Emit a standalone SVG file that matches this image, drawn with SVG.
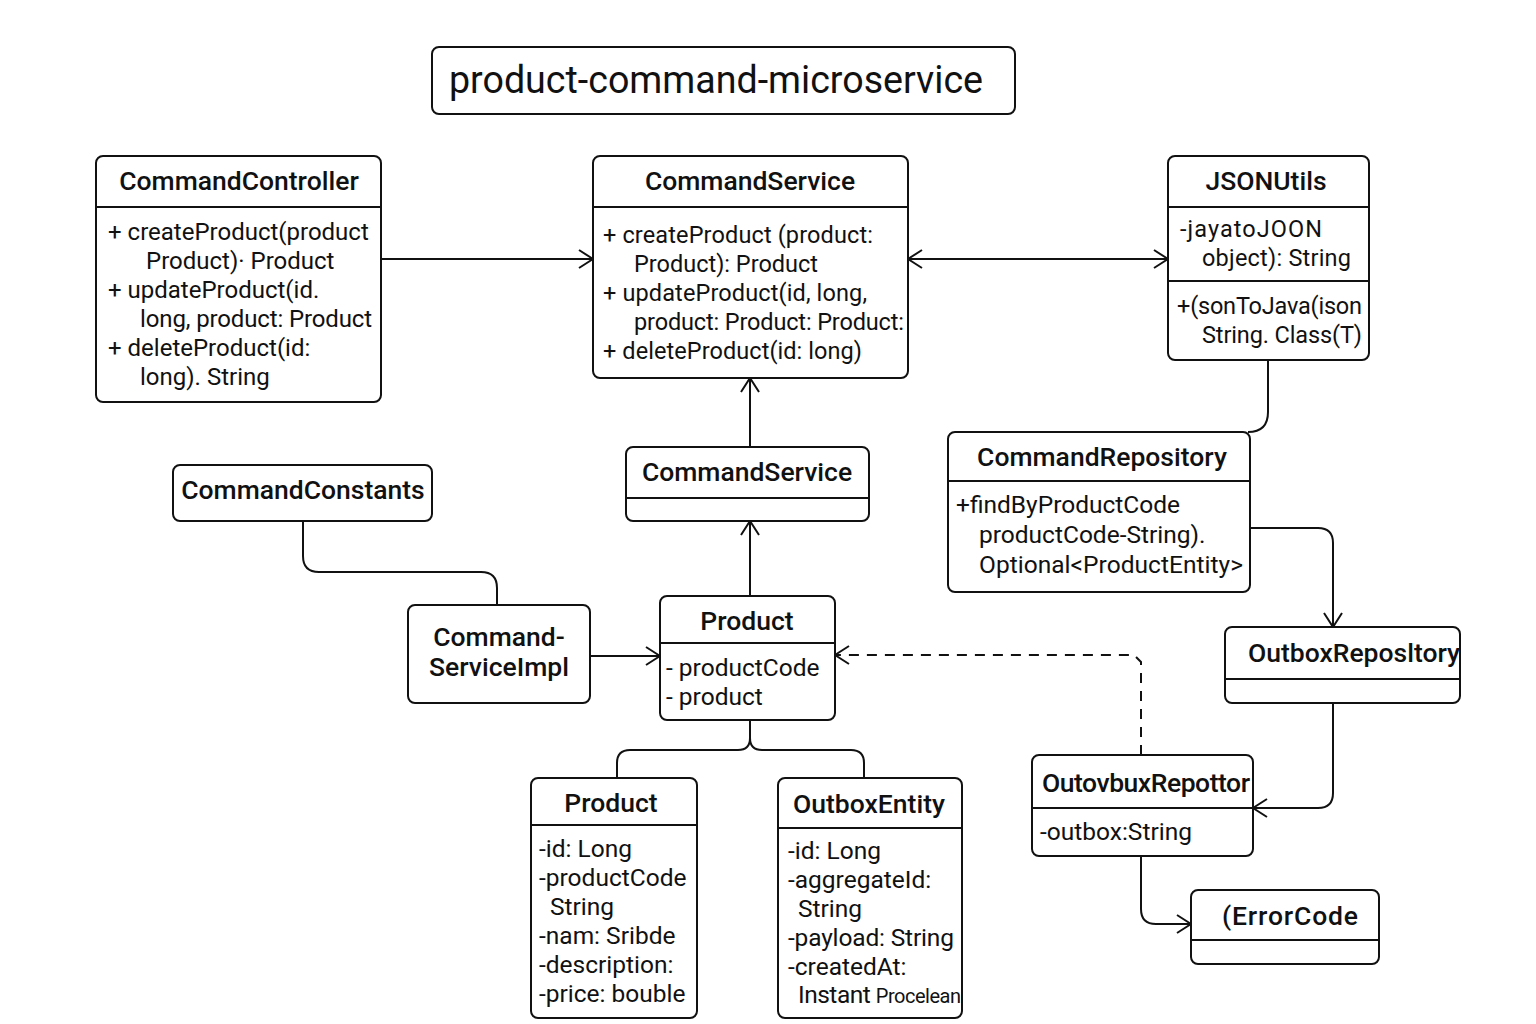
<svg xmlns="http://www.w3.org/2000/svg" width="1536" height="1024" viewBox="0 0 1536 1024">
<defs>
<style>
.box{fill:#fff;stroke:#111;stroke-width:2}
.div{stroke:#111;stroke-width:2}
.t{font-family:Roboto,"Liberation Sans",sans-serif;font-size:26.5px;font-weight:500;fill:#111}
.b{font-family:Roboto,"Liberation Sans",sans-serif;font-size:24.5px;fill:#111}
.b1{font-family:Roboto,"Liberation Sans",sans-serif;font-size:24px;fill:#111}
.b2{font-family:Roboto,"Liberation Sans",sans-serif;font-size:23.5px;fill:#111}
.c{fill:none;stroke:#111;stroke-width:2}
.d{fill:none;stroke:#111;stroke-width:2;stroke-dasharray:10 8}
</style>
<marker id="ar" viewBox="0 0 16 20" refX="15" refY="10" markerWidth="16" markerHeight="20" markerUnits="userSpaceOnUse" orient="auto-start-reverse">
<path d="M1,1 L15,10 L1,19" fill="none" stroke="#111" stroke-width="2"/>
</marker>
</defs>
<rect width="1536" height="1024" fill="#fff"/>

<g id="title">
<rect class="box" x="432" y="47" width="583" height="67" rx="7"/>
<text x="449" y="93" font-family="Roboto,'Liberation Sans',sans-serif" font-size="38" fill="#111" textLength="534" lengthAdjust="spacingAndGlyphs">product-command-microservice</text>
</g>

<g id="connectors">
<path class="c" d="M381,259 H593" marker-end="url(#ar)"/>
<path class="c" d="M908,259 H1168" marker-start="url(#ar)" marker-end="url(#ar)"/>
<path class="c" d="M750,447 V378" marker-end="url(#ar)"/>
<path class="c" d="M750,596 V521" marker-end="url(#ar)"/>
<path class="c" d="M590,656 H660" marker-end="url(#ar)"/>
<path class="c" d="M303,521 V556 Q303,572 319,572 H481 Q497,572 497,588 V605"/>
<path class="d" d="M1141,755 V662 L1134,655 H835" marker-end="url(#ar)"/>
<path class="c" d="M750,720 V738 Q750,750 738,750 H630 Q617,750 617,763 V778"/>
<path class="c" d="M750,738 Q750,750 762,750 H851 Q864,750 864,763 V778"/>
<path class="c" d="M1250,528 H1318 Q1333,528 1333,543 V627" marker-end="url(#ar)"/>
<path class="c" d="M1333,703 V793 Q1333,808 1318,808 H1253" marker-end="url(#ar)"/>
<path class="c" d="M1141,856 V909 Q1141,924 1156,924 H1191" marker-end="url(#ar)"/>
<path class="c" d="M1268,360 V412 Q1268,432 1248,432"/>
</g>

<g id="commandController">
<rect class="box" x="96" y="156" width="285" height="246" rx="7"/>
<line class="div" x1="96" y1="207" x2="381" y2="207"/>
<text class="t" x="239" y="190" text-anchor="middle">CommandController</text>
<text class="b1" x="108" y="240">+ createProduct(product</text>
<text class="b1" x="146" y="269">Product)· Product</text>
<text class="b1" x="108" y="298">+ updateProduct(id.</text>
<text class="b1" x="140" y="327" textLength="232">long, product: Product</text>
<text class="b1" x="108" y="356">+ deleteProduct(id:</text>
<text class="b1" x="140" y="385">long). String</text>
</g>

<g id="commandService">
<rect class="box" x="593" y="156" width="315" height="222" rx="7"/>
<line class="div" x1="593" y1="207" x2="908" y2="207"/>
<text class="t" x="750" y="190" text-anchor="middle">CommandService</text>
<text class="b2" x="603" y="243" textLength="270">+ createProduct (product:</text>
<text class="b2" x="634" y="272">Product): Product</text>
<text class="b2" x="603" y="301" textLength="264">+ updateProduct(id, long,</text>
<text class="b2" x="634" y="330" textLength="270">product: Product: Product:</text>
<text class="b2" x="603" y="359" textLength="259">+ deleteProduct(id: long)</text>
</g>

<g id="jsonUtils">
<rect class="box" x="1168" y="156" width="201" height="204" rx="7"/>
<line class="div" x1="1168" y1="207" x2="1369" y2="207"/>
<line class="div" x1="1168" y1="281" x2="1369" y2="281"/>
<text class="t" x="1266" y="190" text-anchor="middle">JSONUtils</text>
<text class="b2" x="1180" y="237" textLength="142">-jayatoJOON</text>
<text class="b2" x="1202" y="266" textLength="149">object): String</text>
<text class="b2" x="1177" y="314" textLength="185">+(sonToJava(ison</text>
<text class="b2" x="1202" y="343" textLength="160">String. Class(T)</text>
</g>

<g id="commandServiceSmall">
<rect class="box" x="626" y="447" width="243" height="74" rx="7"/>
<line class="div" x1="626" y1="498" x2="869" y2="498"/>
<text class="t" x="747" y="481" text-anchor="middle">CommandService</text>
</g>

<g id="commandConstants">
<rect class="box" x="173" y="465" width="259" height="56" rx="7"/>
<text class="t" x="303" y="499" text-anchor="middle">CommandConstants</text>
</g>

<g id="commandServiceImpl">
<rect class="box" x="408" y="605" width="182" height="98" rx="7"/>
<text class="t" x="499" y="646" text-anchor="middle">Command-</text>
<text class="t" x="499" y="676" text-anchor="middle">ServiceImpl</text>
</g>

<g id="productMid">
<rect class="box" x="660" y="596" width="175" height="124" rx="7"/>
<line class="div" x1="660" y1="643" x2="835" y2="643"/>
<text class="t" x="747" y="630" text-anchor="middle">Product</text>
<text class="b" x="666" y="676">- productCode</text>
<text class="b" x="666" y="705">- product</text>
</g>

<g id="productEntity">
<rect class="box" x="531" y="778" width="166" height="240" rx="7"/>
<line class="div" x1="531" y1="825" x2="697" y2="825"/>
<text class="t" x="611" y="812" text-anchor="middle">Product</text>
<text class="b" x="539" y="857">-id: Long</text>
<text class="b" x="539" y="886">-productCode</text>
<text class="b" x="550" y="915">String</text>
<text class="b" x="539" y="944">-nam: Sribde</text>
<text class="b" x="539" y="973">-description:</text>
<text class="b" x="539" y="1002">-price: bouble</text>
</g>

<g id="outboxEntity">
<rect class="box" x="778" y="778" width="184" height="240" rx="7"/>
<line class="div" x1="778" y1="828" x2="962" y2="828"/>
<text class="t" x="869" y="813" text-anchor="middle">OutboxEntity</text>
<text class="b" x="788" y="859">-id: Long</text>
<text class="b" x="788" y="888">-aggregateId:</text>
<text class="b" x="798" y="917">String</text>
<text class="b" x="788" y="946" textLength="166">-payload: String</text>
<text class="b" x="788" y="975">-createdAt:</text>
<text class="b" x="798" y="1003" textLength="163">Instant <tspan font-size="20">Procelean</tspan></text>
</g>

<g id="commandRepository">
<rect class="box" x="948" y="432" width="302" height="160" rx="7"/>
<line class="div" x1="948" y1="481" x2="1250" y2="481"/>
<text class="t" x="1102" y="466" text-anchor="middle">CommandRepository</text>
<text class="b" x="956" y="513">+findByProductCode</text>
<text class="b" x="979" y="543">productCode-String).</text>
<text class="b" x="979" y="573" textLength="264">Optional&lt;ProductEntity&gt;</text>
</g>

<g id="outboxRepository">
<rect class="box" x="1225" y="627" width="235" height="76" rx="7"/>
<line class="div" x1="1225" y1="679" x2="1460" y2="679"/>
<text class="t" x="1248" y="662" textLength="212">OutboxReposltory</text>
</g>

<g id="outovbuxRepottor">
<rect class="box" x="1032" y="755" width="221" height="101" rx="7"/>
<line class="div" x1="1032" y1="808" x2="1253" y2="808"/>
<text class="t" x="1042" y="792" textLength="208">OutovbuxRepottor</text>
<text class="b" x="1040" y="840">-outbox:String</text>
</g>

<g id="errorCode">
<rect class="box" x="1191" y="890" width="188" height="74" rx="7"/>
<line class="div" x1="1191" y1="940" x2="1379" y2="940"/>
<text class="t" x="1222" y="925" textLength="136">(ErrorCode</text>
</g>
</svg>
